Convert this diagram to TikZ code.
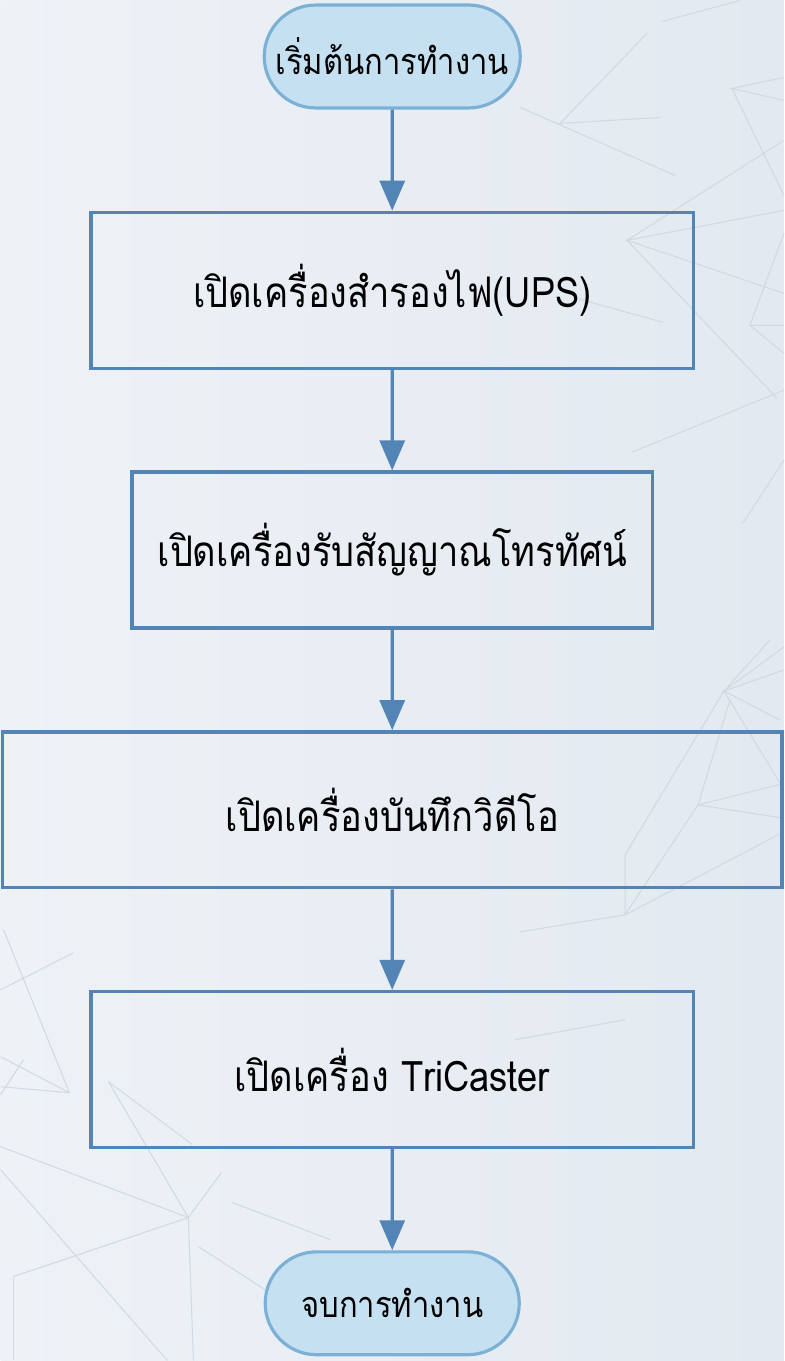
\documentclass[tikz,border=0pt]{standalone}
\usepackage{fontspec}
\usepackage{xcolor}
\usepackage{tikz}
\usetikzlibrary{arrows.meta,shapes.misc}
\newfontfamily\thaifont[Script=Thai, FakeStretch=0.86]{Loma}
\definecolor{bgLight}{HTML}{EEF2F7}
\definecolor{bgDark}{HTML}{E2E9F0}
\definecolor{bgLine}{HTML}{D0DAE4}
\definecolor{boxEdge}{HTML}{5284B6}
\definecolor{termFill}{HTML}{C4E0F1}
\definecolor{termEdge}{HTML}{7DB0D5}

\begin{document}
\begin{tikzpicture}[x=0.02cm, y=-0.02cm,
                    terminal/.style={rounded rectangle, draw=termEdge, fill=termFill,
                                line width=1.8pt, minimum width=5.36cm, minimum height=2.06cm,
                                font=\thaifont\fontsize{20.5}{25}\selectfont},
                    stepbox/.style={rectangle, draw=boxEdge, line width=1.9pt,
                                minimum width=12.06cm, minimum height=3.12cm,
                                font=\thaifont\fontsize{24}{28}\selectfont},
                    edge from parent/.style={draw=boxEdge, line width=1.8pt,
                                -{Triangle[length=0.6cm, width=0.5cm]}},
                    level 1/.style={level distance=4.68cm},
                    level 2/.style={level distance=5.2cm},
                    level 3/.style={level distance=5.2cm},
                    level 4/.style={level distance=5.2cm},
                    level 5/.style={level distance=4.68cm}
                    ]

        % background
        \shade[left color=bgLight, right color=bgDark] (0,0) rectangle (784,1361);
        \begin{scope}[draw=bgLine, line width=0.6pt]
            \draw (662,21) -- (740,0);
            \draw (647,33) -- (560,123) -- (660,117);
            \draw (520,107) -- (675,175);
            \draw (784,77) -- (732,88) -- (784,100);
            \draw (732,88) -- (784,195);
            \draw (784,140) -- (627,240) -- (784,210);
            \draw (784,293) -- (627,240) -- (777,398);
            \draw (573,297) -- (663,322);
            \draw (784,233) -- (750,325) -- (784,325);
            \draw (750,325) -- (784,353);
            \draw (632,452) -- (784,390);
            \draw (743,523) -- (784,460);
            \draw (770,640) -- (724,691) -- (784,647);
            \draw (784,670) -- (724,691) -- (780,720);
            \draw (724,691) -- (780,783);
            \draw (730,700) -- (698,805) -- (782,784);
            \draw (698,805) -- (782,818);
            \draw (698,805) -- (625,915) -- (625,855) -- (724,691);
            \draw (625,915) -- (784,832);
            \draw (625,915) -- (520,932);
            \draw (515,1040) -- (625,1020);
            \draw (73,953) -- (0,990);
            \draw (3,930) -- (69,1093) -- (0,1087);
            \draw (69,1093) -- (0,1057);
            \draw (23,1060) -- (0,1095);
            \draw (108,1082) -- (188,1218);
            \draw (108,1082) -- (192,1145);
            \draw (0,1147) -- (188,1218) -- (221,1173);
            \draw (13,1277) -- (188,1218) -- (193,1361);
            \draw (0,1170) -- (167,1361);
            \draw (13,1277) -- (13,1361);
            \draw (198,1247) -- (280,1300);
            \draw (232,1203) -- (330,1240);
        \end{scope}

        % flow
        \node[terminal] (start) at (392,56) {เริ่มต้นการทำงาน}
            child {node[stepbox] (ups) {เปิดเครื่องสำรองไฟ(UPS)}
                child {node[stepbox, minimum width=10.42cm] (tv) {เปิดเครื่องรับสัญญาณโทรทัศน์}
                    child {node[stepbox, minimum width=15.6cm] (vdo) {เปิดเครื่องบันทึกวิดีโอ}
                        child {node[stepbox] (tricaster) {เปิดเครื่อง TriCaster}
                            child {node[terminal, minimum width=5.32cm] (stop) {จบการทำงาน}}
                        }
                    }
                }
            };
\end{tikzpicture}
\end{document}
